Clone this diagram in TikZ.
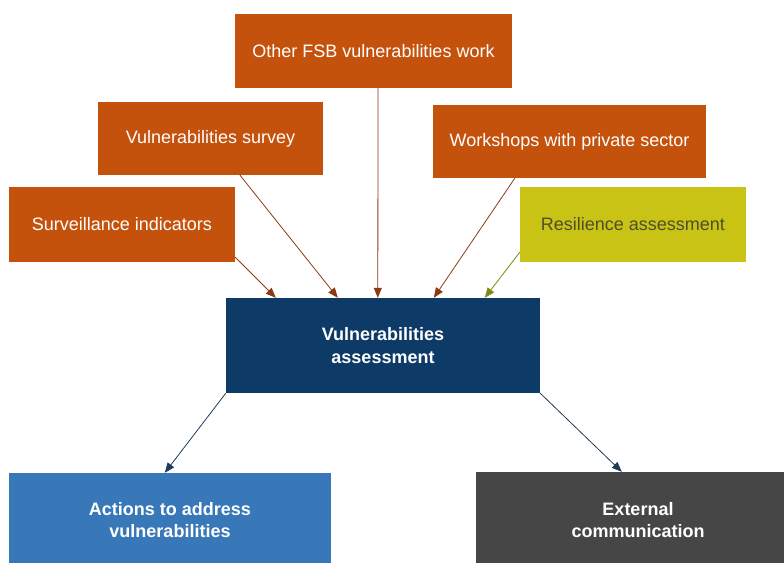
\documentclass[tikz,border=0pt]{standalone}
\usepackage{fontspec}
\setmainfont{Liberation Sans}
\usetikzlibrary{arrows.meta}
\definecolor{orangebox}{HTML}{C5520C}
\definecolor{resil}{HTML}{C9C315}
\definecolor{resiltext}{HTML}{4E4E2A}
\definecolor{navybox}{HTML}{0D3A66}
\definecolor{bluebox}{HTML}{3878B8}
\definecolor{graybox}{HTML}{464646}
\definecolor{brownarrow}{HTML}{8A3A14}
\definecolor{olivearrow}{HTML}{7D8A12}
\definecolor{navyarrow}{HTML}{1F3B5C}
\tikzset{
  box/.style={rectangle, inner sep=0pt, text=white, align=center,
    font=\fontsize{18}{22.5}\selectfont},
  obox/.style={box, fill=orangebox},
  conn/.style={line width=0.8pt, -{Triangle[length=10pt,width=8pt]}},
}
\begin{document}
\begin{tikzpicture}[x=1pt,y=-1pt]
\useasboundingbox (0,0) rectangle (784,562);
\clip (0,0) rectangle (784,562);
\node[obox, minimum width=277pt, minimum height=74pt] (other) at (373.5,51) {Other FSB vulnerabilities work};
\node[obox, minimum width=225pt, minimum height=73pt] (survey) at (210.5,138.5) {Vulnerabilities survey};
\node[obox, minimum width=273pt, minimum height=73pt] (work) at (569.5,141.5) {Workshops with private sector};
\node[obox, minimum width=226pt, minimum height=75pt] (surv) at (122,224.5) {Surveillance indicators};
\node[box, fill=resil, text=resiltext, minimum width=226pt, minimum height=75pt] (resil) at (633,224.5) {Resilience assessment};
\node[box, fill=navybox, font=\fontsize{18}{22.5}\selectfont\bfseries, minimum width=314pt, minimum height=95pt] (va) at (383,345.5) {Vulnerabilities\\assessment};
\node[box, fill=bluebox, font=\fontsize{18}{22.5}\selectfont\bfseries, minimum width=322pt, minimum height=94pt] (act) at (170,520) {Actions to address\\vulnerabilities};
\node[box, fill=graybox, font=\fontsize{18}{22.5}\selectfont\bfseries, minimum width=324pt, minimum height=96pt] (ext) at (638,520) {External\\communication};

\draw[conn, brownarrow] ([yshift=5pt]surv.south east) -- ([xshift=50pt]va.north west);
\draw[conn, brownarrow] ([xshift=29.5pt]survey.south) -- ([xshift=112pt]va.north west);
\draw[conn, brownarrow] ([xshift=4.5pt]other.south) -- ([xshift=152pt]va.north west);
\draw[conn, brownarrow] ([xshift=82pt]work.south west) -- ([xshift=208pt]va.north west);
\draw[conn, olivearrow] ([yshift=10pt]resil.south west) -- ([xshift=259pt]va.north west);
\draw[conn, navyarrow] (va.south west) -- ([xshift=156pt]act.north west);
\draw[conn, navyarrow] (va.south east) -- ([xshift=146pt]ext.north west);
\end{tikzpicture}
\end{document}
